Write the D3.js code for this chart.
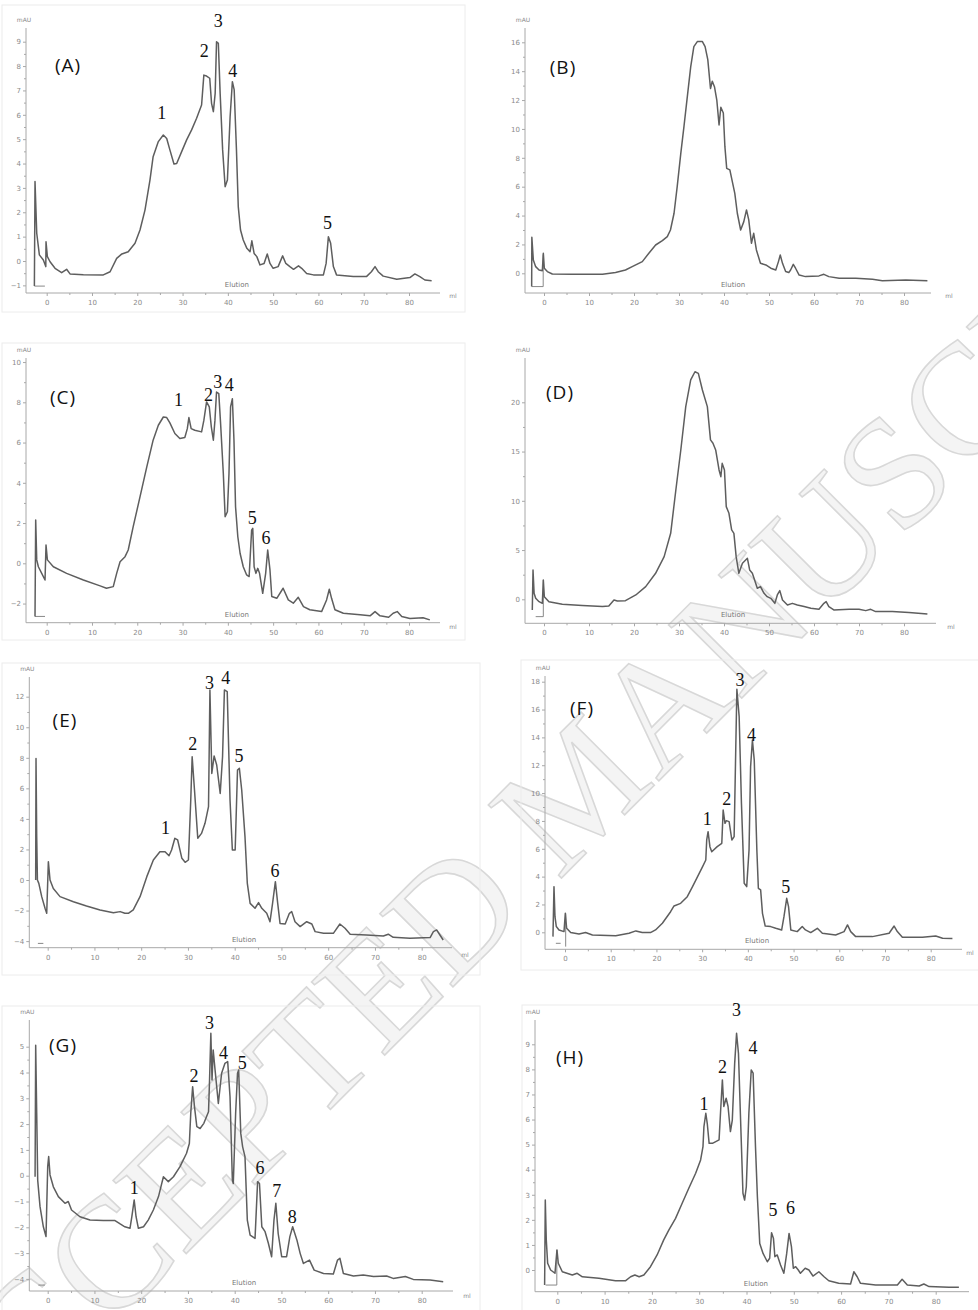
<!DOCTYPE html>
<html><head><meta charset="utf-8">
<script src="https://cdn.jsdelivr.net/npm/d3@7"></script>
<style>body{margin:0;background:#fff}svg{display:block}</style>
</head><body>
<svg id="c" width="978" height="1310"></svg>
<script>
// ---------- DATA ----------
const xTicks = [0,10,20,30,40,50,60,70,80];
const yTicksA = [-1,0,1,2,3,4,5,6,7,8,9];
const yTicksB = [0,2,4,6,8,10,12,14,16];
const yTicksC = [-2,0,2,4,6,8,10];
const yTicksD = [0,5,10,15,20];
const yTicksE = [-4,-2,0,2,4,6,8,10,12];
const yTicksF = [0,2,4,6,8,10,12,14,16,18];
const yTicksG = [-4,-3,-2,-1,0,1,2,3,4,5];
const yTicksH = [0,1,2,3,4,5,6,7,8,9];
const panelNames = ["(A)","(B)","(C)","(D)","(E)","(F)","(G)","(H)"];
const watermark = "ACCEPTED MANUSCRIPT";

const traceA = [[-2.72,-1.03],[-2.58,3.26],[-2.2,1.14],[-1.62,0.25],[-0.74,0.04],[-0.2,-0.23],[-0.15,0.79],[0.15,0.18],[0.74,-0.03],[1.84,-0.3],[3.3,-0.48],[4.4,-0.34],[5.15,-0.53],[8.1,-0.56],[12.5,-0.57],[14,-0.44],[15.45,0.11],[16.6,0.29],[18,0.38],[19.5,0.73],[20.6,1.27],[21.7,2.09],[22.8,3.32],[23.5,4.28],[24.65,4.9],[25.75,5.17],[26.5,5.03],[27.2,4.56],[28.1,3.98],[28.7,4.0],[29.8,4.49],[30.9,4.97],[32,5.38],[33.1,5.86],[34.2,6.4],[34.7,7.63],[35.3,7.59],[36.0,7.5],[36.4,6.47],[36.8,6.13],[37.2,6.88],[37.5,9.0],[37.9,8.93],[38.3,6.88],[38.85,4.56],[39.4,3.05],[39.9,3.32],[40.5,5.92],[41.0,7.36],[41.4,7.02],[41.9,4.56],[42.3,2.23],[42.8,1.27],[43.4,0.86],[44.2,0.52],[44.9,0.38],[45.3,0.83],[45.8,0.31],[46.4,0.18],[47.1,-0.16],[48.0,-0.1],[48.7,0.29],[49.3,-0.1],[50.0,-0.3],[51.1,-0.23],[52.1,0.21],[52.8,-0.1],[53.7,-0.23],[54.5,-0.34],[55.6,-0.2],[56.3,-0.3],[57.4,-0.51],[58.9,-0.57],[61.1,-0.57],[61.7,-0.1],[62.2,1.0],[62.7,0.73],[63.3,-0.23],[64.0,-0.57],[67.7,-0.64],[70.6,-0.64],[71.7,-0.44],[72.5,-0.23],[73.2,-0.44],[74.3,-0.62],[77.3,-0.75],[80.2,-0.68],[81.3,-0.53],[82.4,-0.64],[83.5,-0.78],[85,-0.81]];
const traceB = [[-2.74,-0.92],[-2.7,2.5],[-2.37,0.92],[-1.85,0.46],[-1.1,0.23],[-0.37,0.18],[-0.15,1.39],[0.07,0.35],[0.74,0.12],[1.85,-0.05],[6.3,-0.07],[13,-0.07],[15.9,0.05],[18.1,0.23],[19.6,0.46],[21.85,0.81],[23.3,1.39],[24.8,1.96],[26.3,2.26],[27.4,2.54],[28.1,3.0],[28.9,4.16],[29.6,6.0],[30.4,8.31],[31.1,10.16],[31.85,12.24],[32.6,14.3],[33.3,15.7],[34.07,16.05],[35.2,16.05],[35.8,15.7],[36.4,14.8],[37.0,12.8],[37.4,13.3],[37.9,12.9],[38.4,12.0],[38.9,10.27],[39.3,11.5],[39.85,11.1],[40.2,8.77],[40.6,7.27],[41.3,7.16],[41.85,6.35],[42.4,5.54],[42.96,4.16],[43.7,3.0],[44.4,3.58],[45.0,4.39],[45.5,3.7],[46.1,2.08],[46.6,2.77],[47.2,1.62],[48.1,0.69],[49.3,0.58],[50.4,0.35],[51.5,0.23],[52.1,0.81],[52.5,1.27],[53.0,0.69],[53.7,0.12],[54.4,0.05],[54.8,0.23],[55.4,0.62],[55.9,0.35],[56.7,-0.12],[58.1,-0.23],[61.1,-0.18],[62.2,-0.07],[63.3,-0.23],[65.6,-0.35],[69.3,-0.35],[73,-0.42],[75.2,-0.51],[80.4,-0.46],[85.2,-0.51]];
const traceC = [[-2.58,-2.64],[-2.43,2.15],[-2.2,0.17],[-1.84,-0.17],[-1.1,-0.5],[-0.37,-0.83],[-0.15,0.91],[0.15,0.17],[1.47,-0.17],[4.4,-0.5],[8.1,-0.83],[11.8,-1.12],[13.2,-1.24],[14.7,-1.16],[15.45,-0.5],[16.2,0.08],[17.3,0.33],[18.0,0.66],[19.1,1.82],[20.6,3.3],[22.1,4.79],[23.5,6.12],[24.65,6.86],[25.75,7.27],[26.5,7.24],[27.2,6.98],[28.3,6.45],[29.4,6.2],[30.5,6.25],[31.05,6.69],[31.4,7.24],[31.9,6.69],[32.7,6.61],[34.2,6.53],[34.7,7.1],[35.3,8.02],[35.9,7.77],[36.35,6.78],[36.8,6.12],[37.15,7.1],[37.5,8.51],[38.0,8.43],[38.4,6.94],[39.0,4.46],[39.4,2.31],[39.9,2.56],[40.25,4.46],[40.6,7.77],[41.0,8.18],[41.35,6.12],[41.7,2.81],[42.2,1.32],[42.7,0.5],[43.4,-0.17],[44.15,-0.58],[44.7,-0.66],[45.25,1.65],[45.5,1.74],[45.8,-0.17],[46.2,-0.5],[46.6,-0.25],[47.0,-0.5],[47.7,-1.49],[48.35,-0.5],[48.8,0.66],[49.3,-0.33],[49.7,-1.65],[50.8,-1.74],[52.2,-1.24],[53.35,-1.82],[54.45,-1.98],[55.55,-1.69],[56.7,-2.15],[58.1,-2.31],[60.7,-2.4],[61.8,-1.82],[62.4,-1.29],[62.9,-1.74],[63.65,-2.31],[65.5,-2.48],[69.2,-2.56],[71.4,-2.61],[72.5,-2.4],[73.6,-2.61],[75.5,-2.68],[76.5,-2.48],[77.4,-2.4],[78.4,-2.64],[80.2,-2.74],[83.1,-2.71],[84.6,-2.81]];
const traceD = [[-2.6,-1.08],[-2.44,2.98],[-2.2,0.61],[-1.85,0.1],[-1.1,-0.24],[-0.37,-0.41],[-0.15,1.96],[0.07,0.27],[1.1,-0.24],[4.07,-0.51],[8.5,-0.64],[13,-0.74],[14.4,-0.68],[15.55,-0.07],[16.3,-0.17],[18.1,-0.14],[20.4,0.44],[22.6,1.29],[24.8,2.64],[26.7,4.33],[28.15,6.7],[29.3,11.1],[30.4,15.16],[31.5,19.56],[32.6,22.27],[33.55,23.1],[34.3,22.94],[35.2,21.25],[36.3,19.56],[37.0,16.18],[37.55,15.84],[38.15,15.16],[38.9,13.13],[39.3,12.45],[39.6,13.8],[40.1,13.13],[40.5,9.41],[41.1,8.73],[41.7,7.04],[42.2,6.7],[42.7,4.33],[43.3,2.64],[44.1,3.65],[45.2,4.16],[45.7,2.98],[46.3,2.64],[46.8,1.96],[47.4,1.12],[48.1,1.29],[48.9,0.61],[49.6,0.27],[50.4,0.1],[51.3,-0.41],[51.85,0.44],[52.4,0.88],[53.0,-0.07],[54.1,-0.58],[55.2,-0.41],[56.3,-0.58],[57.8,-0.74],[59.3,-0.91],[61.1,-1.02],[62.2,-0.41],[62.7,-0.24],[63.3,-0.74],[64.4,-1.08],[67.8,-1.02],[70,-1.02],[71.5,-1.15],[72.6,-1.02],[73.7,-1.25],[77.4,-1.25],[81.1,-1.35],[85.2,-1.49]];
const traceE = [[-2.57,0],[-2.5,7.96],[-2.35,2.84],[-2.2,0],[-1.9,-0.22],[-1.28,-1.09],[-0.57,-1.85],[-0.21,-2.18],[0.14,1.2],[0.5,0],[1.2,-0.55],[2.64,-1.09],[5.5,-1.42],[8.3,-1.7],[11.2,-1.96],[14.05,-2.14],[15.5,-2.07],[16.5,-2.18],[17.25,-2.18],[18.3,-1.96],[19.75,-1.09],[21.2,0.22],[22.6,1.31],[24.0,1.85],[25.1,1.85],[25.95,1.59],[26.5,1.96],[27.2,2.73],[27.8,2.62],[28.7,1.42],[29.4,1.16],[30.1,1.31],[30.6,5.24],[30.9,8.07],[31.4,5.89],[32.1,2.73],[32.9,3.05],[33.65,3.71],[34.4,4.8],[34.7,12.44],[35.1,6.98],[35.6,8.12],[36.15,7.53],[36.9,5.67],[37.4,8.07],[37.8,12.44],[38.4,12.33],[39.0,5.24],[39.5,1.96],[40.1,1.96],[40.6,7.2],[41.0,7.31],[41.5,5.89],[42.2,2.84],[42.7,-0.22],[43.3,-1.53],[44.35,-1.85],[45.1,-1.48],[45.8,-1.85],[46.85,-2.18],[47.55,-2.73],[48.1,-1.53],[48.7,-0.11],[49.2,-1.53],[49.7,-2.84],[50.8,-2.88],[51.7,-2.18],[52.2,-2.07],[52.9,-2.73],[54.0,-3.05],[55.4,-2.73],[56.5,-2.88],[57.2,-3.38],[59.0,-3.49],[61.1,-3.49],[62.5,-2.88],[63.6,-3.16],[64.7,-3.55],[68.2,-3.6],[71.8,-3.67],[72.85,-3.55],[73.9,-3.75],[77.5,-3.82],[81.8,-3.77],[82.5,-3.38],[83.2,-3.27],[83.9,-3.6],[84.6,-3.93]];
const traceF = [[-2.63,-0.31],[-2.41,3.28],[-2.19,1.12],[-1.9,0.41],[-1.31,0.17],[-0.22,0.05],[0.07,1.36],[0.36,0.29],[1.24,-0.02],[3.06,-0.12],[4.5,-0.02],[6.0,-0.19],[11.1,-0.24],[14.0,-0.07],[15.5,0.1],[16.9,-0.02],[18.7,-0.02],[19.8,0.17],[21.3,0.65],[23.1,1.48],[23.85,1.89],[25.3,2.08],[26.75,2.56],[27.9,3.28],[29.0,4.0],[30.1,4.72],[30.8,5.19],[31.0,6.63],[31.3,7.23],[31.7,6.15],[32.1,5.79],[33.3,6.15],[34.3,6.39],[34.6,8.78],[35.0,7.83],[35.3,8.02],[35.9,7.95],[36.5,6.63],[37.0,6.87],[37.35,13.1],[37.6,17.45],[38.1,15.49],[38.6,9.26],[39.2,3.52],[39.75,3.28],[40.26,5.91],[40.6,11.9],[41.0,13.81],[41.4,12.37],[41.97,5.91],[42.3,3.16],[42.8,3.04],[43.2,1.36],[43.8,0.45],[45.0,0.41],[46.1,0.29],[47.4,0.17],[47.9,1.12],[48.5,2.44],[48.9,1.84],[49.4,0.17],[50.8,0.05],[51.9,0.41],[52.6,0.17],[53.75,-0.02],[55.2,0.29],[56.3,-0.07],[59.2,-0.19],[61.05,0.05],[61.8,0.53],[62.5,0.05],[63.6,-0.31],[67.25,-0.31],[70.9,-0.07],[72.0,0.45],[72.7,0.05],[73.8,-0.36],[78.2,-0.36],[81.1,-0.26],[82.6,-0.43],[84.75,-0.45]];
const traceG = [[-2.7,-0.04],[-2.57,5.06],[-2.35,2.42],[-2.14,-0.17],[-1.64,-1.2],[-0.93,-1.98],[-0.36,-2.36],[0,0.35],[0.21,0.74],[0.5,0.03],[1.21,-0.43],[2.28,-0.81],[3.7,-1.07],[4.4,-1.0],[5.1,-1.33],[6.9,-1.59],[9.05,-1.72],[11.9,-1.74],[14.4,-1.74],[15.5,-1.87],[16.5,-1.98],[17.6,-2.04],[18.0,-1.59],[18.5,-0.94],[18.9,-1.59],[19.4,-2.04],[20.5,-1.98],[21.5,-1.72],[22.6,-1.33],[23.7,-0.81],[24.75,-0.04],[25.8,-0.23],[26.9,-0.04],[28.3,0.35],[29.7,0.87],[30.3,1.25],[30.6,2.42],[31.0,3.45],[31.4,2.67],[31.9,1.9],[32.6,1.83],[33.4,2.03],[34.4,2.48],[34.6,3.58],[34.9,5.52],[35.15,3.71],[35.4,4.87],[35.8,4.1],[36.5,2.8],[37.2,3.97],[37.9,4.35],[38.5,4.42],[39.0,3.06],[39.5,-0.17],[39.7,-0.3],[40.2,2.42],[40.6,3.97],[40.85,4.1],[41.3,1.64],[41.7,1.12],[42.2,0.74],[42.7,-1.72],[43.3,-2.3],[44.35,-2.43],[44.9,-0.23],[45.3,-0.3],[45.8,-1.98],[46.5,-2.17],[47.2,-2.62],[47.9,-3.14],[48.4,-1.72],[48.8,-1.07],[49.3,-2.24],[50.05,-3.14],[51.1,-3.14],[51.8,-2.36],[52.4,-1.98],[53.3,-2.49],[54.0,-3.01],[54.7,-3.4],[56.0,-3.27],[57.0,-3.66],[59.0,-3.79],[61.1,-3.81],[62.0,-3.27],[62.5,-3.2],[63.25,-3.79],[65.4,-3.89],[67.5,-3.85],[69.7,-3.91],[72.5,-3.89],[73.9,-3.98],[76.5,-3.91],[78.2,-4.02],[81.8,-4.04],[84.6,-4.11]];
const traceH = [[-2.68,-0.6],[-2.54,2.79],[-2.33,1.2],[-2.04,0.27],[-1.41,0],[-0.49,-0.13],[-0.07,0.8],[0.21,0.27],[1.06,-0.07],[3.17,-0.2],[4.2,-0.13],[5.3,-0.27],[8.8,-0.33],[12.3,-0.43],[14.4,-0.43],[15.5,-0.27],[16.4,-0.2],[17.3,-0.27],[18.3,-0.2],[19.7,0.13],[21.1,0.6],[22.5,1.2],[23.6,1.6],[25.0,2.06],[26.4,2.66],[27.8,3.26],[29.25,3.86],[30.3,4.39],[30.8,4.92],[31.0,5.72],[31.4,6.25],[31.7,5.85],[32.1,5.05],[32.8,5.05],[34.2,5.19],[34.5,6.25],[34.9,7.58],[35.2,6.52],[35.7,6.85],[36.1,6.52],[36.6,5.52],[37.0,5.98],[37.5,8.24],[37.9,9.44],[38.3,8.64],[38.75,5.98],[39.25,3.06],[39.6,2.79],[39.96,3.32],[40.5,6.25],[41.0,7.98],[41.4,7.85],[41.9,4.92],[42.3,2.93],[42.8,1.06],[43.5,0.66],[44.4,0.33],[44.9,0.47],[45.3,1.49],[45.7,1.26],[46.0,0.53],[46.5,0.6],[47.2,0.2],[47.9,-0.13],[48.5,0.66],[49.0,1.46],[49.5,0.93],[49.9,0.07],[50.4,0.13],[50.95,0],[51.4,-0.13],[52.4,0.07],[53.2,0],[54.05,-0.24],[55.3,-0.07],[56.4,-0.27],[57.4,-0.43],[59.5,-0.53],[62.0,-0.56],[62.7,-0.07],[63.4,-0.27],[64.1,-0.53],[67.3,-0.6],[71.9,-0.6],[72.9,-0.37],[74.0,-0.6],[76.5,-0.64],[77.5,-0.56],[78.6,-0.66],[82.8,-0.69],[84.9,-0.69]];

// peak labels: [ml, mAU, text]
const peaksA = [[25.4,6.06,"1"],[34.8,8.63,"2"],[37.9,9.86,"3"],[41.06,7.81,"4"],[62.0,1.57,"5"]];
const peaksB = [];
const peaksC = [[29.1,8.1,"1"],[35.7,8.35,"2"],[37.75,9.0,"3"],[40.3,8.84,"4"],[45.4,2.26,"5"],[48.4,1.27,"6"]];
const peaksD = [];
const peaksE = [[25.2,3.38,"1"],[31.0,8.9,"2"],[34.6,12.92,"3"],[38.1,13.2,"4"],[40.9,8.12,"5"],[48.6,0.59,"6"]];
const peaksF = [[31.1,8.11,"1"],[35.4,9.55,"2"],[38.3,18.1,"3"],[40.8,14.2,"4"],[48.3,3.23,"5"]];
const peaksG = [[18.5,-0.49,"1"],[31.3,3.86,"2"],[34.6,5.9,"3"],[37.6,4.74,"4"],[41.6,4.35,"5"],[45.4,0.28,"6"],[49.0,-0.58,"7"],[52.3,-1.61,"8"]];
const peaksH = [[31.0,6.62,"1"],[34.9,8.11,"2"],[37.9,10.37,"3"],[41.4,8.84,"4"],[45.6,2.39,"5"],[49.3,2.46,"6"]];

// injection markers (ml, mAU)
const markA = [[[-2.72,-1.03],[-0.4,-1.03]]];
const markB = [[[-2.74,-0.92],[-0.18,-0.92],[-0.18,1.3]]];
const markC = [[[-2.58,-2.64],[-0.37,-2.64]]];
const markD = [[[-1.85,-1.76],[-0.15,-1.76],[-0.15,1.96]]];
const markE = [[[-2.1,-4.15],[-0.93,-4.15]]];
const markF = [[[-2.0,-0.79],[-0.95,-0.79]],[[0.15,-1.03],[0.15,1.36]]];
const markG = [[[-2.0,-4.24],[-0.6,-4.24]]];
const markH = [[[-2.47,-0.6],[-0.1,-0.6],[-0.1,0.8]]];

// ---------- LAYOUT ----------
const layout = [
 {x0:46.7,x80:409,ax:26,ay:293,top:28,xe:440,yv:[0,9],yp:[261,41.7],lab:[68,65],ml:[453,298],frame:[2,5,465,312]},
 {x0:544,x80:904,ax:525,ay:293,top:28,xe:931,yv:[0,16],yp:[273.3,42.3],lab:[563,67],ml:[949,298],frame:null},
 {x0:46.7,x80:409,ax:26,ay:622.7,top:358,xe:440,yv:[0,8],yp:[563.3,402.3],lab:[63,397],ml:[453,629],frame:[2,343,465,640]},
 {x0:544,x80:904,ax:525,ay:623.3,top:358,xe:936,yv:[0,20],yp:[599.3,402.3],lab:[560,392],ml:[951,629],frame:null},
 {x0:47.7,x80:421.7,ax:29.3,ay:947.7,top:677,xe:452,yv:[0,12],yp:[880,696.7],lab:[65,720],ml:[465,957],frame:[2,663,480,975]},
 {x0:565,x80:930.7,ax:545,ay:949.3,top:676,xe:962,yv:[0,18],yp:[932.3,681.7],lab:[582,708],ml:[970,955],frame:[521,660,985,970]},
 {x0:47.7,x80:421.7,ax:29.3,ay:1291,top:1020,xe:453,yv:[0,5],yp:[1175.7,1046.7],lab:[63,1045],ml:[467,1298],frame:[2,1006,480,1315]},
 {x0:557.3,x80:935.7,ax:535,ay:1291.7,top:1020,xe:969,yv:[0,9],yp:[1270,1044.3],lab:[570,1057],ml:null,frame:[522,1005,985,1315]}
];
const traces = [traceA,traceB,traceC,traceD,traceE,traceF,traceG,traceH];
const peaks = [peaksA,peaksB,peaksC,peaksD,peaksE,peaksF,peaksG,peaksH];
const yTicks = [yTicksA,yTicksB,yTicksC,yTicksD,yTicksE,yTicksF,yTicksG,yTicksH];
const marks = [markA,markB,markC,markD,markE,markF,markG,markH];

const svg = d3.select("#c");
svg.append("rect").attr("width",978).attr("height",1310).attr("fill","#fff");

// watermark (behind)
svg.append("text").text(watermark)
  .attr("transform","translate(578,786) rotate(-45)")
  .attr("text-anchor","middle").attr("dominant-baseline","central")
  .attr("font-family","Liberation Serif").attr("font-size",158)
  .attr("fill","#f4f4f4").attr("stroke","#d8d8d8").attr("stroke-width",1.6);

const AX = "#a8a8a8", TXT = "#8a8a8a", LINE = "#5e5e5e";
const fmt = d3.format("~g");

layout.forEach((L,i) => {
  const g = svg.append("g");
  const x = d3.scaleLinear().domain([0,80]).range([L.x0,L.x80]);
  const y = d3.scaleLinear().domain(L.yv).range(L.yp);
  if (L.frame) {
    const f = L.frame;
    g.append("rect").attr("x",f[0]).attr("y",f[1]).attr("width",f[2]-f[0]).attr("height",f[3]-f[1])
      .attr("fill","none").attr("stroke","#ececec").attr("stroke-width",1);
  }
  const xm = xTicks.slice(0,-1).map((t,k)=> (t+xTicks[k+1])/2);
  const yt = yTicks[i];
  const ym = yt.slice(0,-1).map((t,k)=> (t+yt[k+1])/2);
  g.append("g").attr("transform",`translate(0,${L.ay})`)
    .call(d3.axisBottom(x).tickValues(xm).tickSize(2).tickFormat(""))
    .call(s=>{s.select(".domain").remove(); s.selectAll("line").attr("stroke",AX);});
  g.append("g").attr("transform",`translate(${L.ax},0)`)
    .call(d3.axisLeft(y).tickValues(ym).tickSize(2).tickFormat(""))
    .call(s=>{s.select(".domain").remove(); s.selectAll("line").attr("stroke",AX);});
  g.append("g").attr("transform",`translate(0,${L.ay})`)
    .call(d3.axisBottom(x).tickValues(xTicks).tickSize(3).tickPadding(4).tickFormat(fmt))
    .call(s=>{s.select(".domain").remove(); s.selectAll("line").attr("stroke",AX);
      s.selectAll("text").attr("fill",TXT).attr("font-size",7).attr("font-family","DejaVu Sans");});
  g.append("g").attr("transform",`translate(${L.ax},0)`)
    .call(d3.axisLeft(y).tickValues(yt).tickSize(3).tickPadding(2).tickFormat(fmt))
    .call(s=>{s.select(".domain").remove(); s.selectAll("line").attr("stroke",AX);
      s.selectAll("text").attr("fill",TXT).attr("font-size",7).attr("font-family","DejaVu Sans");});
  g.append("line").attr("x1",L.ax).attr("x2",L.ax).attr("y1",L.top).attr("y2",L.ay).attr("stroke",AX);
  g.append("line").attr("x1",L.ax).attr("x2",L.xe).attr("y1",L.ay).attr("y2",L.ay).attr("stroke",AX);
  g.append("text").text("mAU").attr("x",L.ax-2).attr("y",L.top-6).attr("text-anchor","middle")
    .attr("font-size",6).attr("fill",TXT).attr("font-family","DejaVu Sans");
  if (L.ml) g.append("text").text("ml").attr("x",L.ml[0]).attr("y",L.ml[1]).attr("text-anchor","middle")
    .attr("font-size",6).attr("fill",TXT).attr("font-family","DejaVu Sans");
  g.append("text").text("Elution").attr("x",x(42)).attr("y",L.ay-6).attr("text-anchor","middle")
    .attr("font-size",7).attr("fill","#777").attr("font-family","DejaVu Sans");
  const line = d3.line().x(d=>x(d[0])).y(d=>y(d[1]));
  marks[i].forEach(m => g.append("path").attr("d",line(m)).attr("fill","none").attr("stroke","#888").attr("stroke-width",1));
  g.append("path").attr("d",line(traces[i])).attr("fill","none").attr("stroke",LINE)
    .attr("stroke-width",1.5).attr("stroke-linejoin","round");
  peaks[i].forEach(p => g.append("text").text(p[2]).attr("x",x(p[0])).attr("y",y(p[1]))
    .attr("text-anchor","middle").attr("dominant-baseline","central")
    .attr("font-family","Liberation Serif").attr("font-size",18).attr("fill","#111"));
  g.append("text").text(panelNames[i]).attr("x",L.lab[0]).attr("y",L.lab[1])
    .attr("text-anchor","middle").attr("dominant-baseline","central")
    .attr("font-family","Open Sans").attr("font-size",19).attr("letter-spacing",1).attr("fill","#111");
});
</script>
</body></html>
